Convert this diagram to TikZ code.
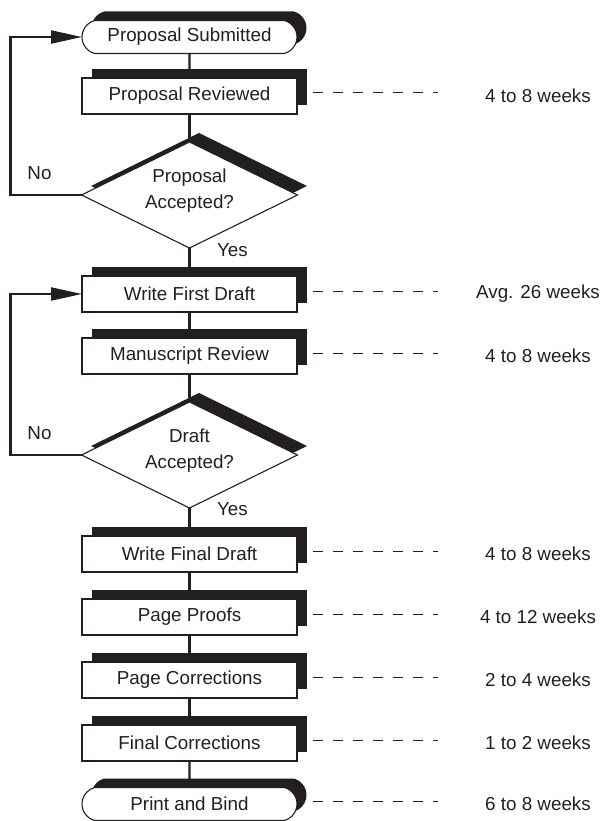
\documentclass[tikz,border=0pt]{standalone}
\usepackage{fontspec}
\setmainfont{Liberation Sans}
\usetikzlibrary{positioning,
shapes.geometric,
shapes.misc,
shadows,
arrows.meta}
\definecolor{inkblack}{RGB}{35,31,32}

\begin{document}
\begin{tikzpicture} [-,
    color=inkblack,
    line width=2.2pt,
    box node/.style={rectangle, draw, fill=white, line width=1.1pt,
        minimum width=215pt, minimum height=36pt, inner sep=0pt, outer sep=0pt,
        general shadow={fill=inkblack, shadow xshift=9.5pt, shadow yshift=9pt}},
    term node/.style={box node, rounded rectangle,
        rounded rectangle arc length=150, minimum height=33pt},
    test node/.style={box node, diamond, aspect=2.04, align=center,
        text depth=12pt, font=\fontsize{18.8pt}{26pt}\selectfont,
        minimum width=216pt, minimum height=106pt},
    lead line/.style={line width=1pt, dash pattern=on 10pt off 10pt},
    back arrow/.style={-{Triangle[length=31pt, width=13pt]}},
    every node/.style={font=\fontsize{18.8pt}{25pt}\selectfont}
  ]

  \useasboundingbox (0,0) rectangle (601pt,-821pt);

  \node [term node] (ps) at (189.5pt,-37pt) {Proposal Submitted};
  \node [box node, below = 24.5pt of ps] (pr) {Proposal Reviewed};
  \node [test node, below = 28pt of pr] (pa) {Proposal\\Accepted?};
  \node [box node, below = 28pt of pa] (wfd) {Write First Draft};
  \node [box node, below = 26pt of wfd] (mr) {Manuscript Review};
  \node [test node, below = 28pt of mr] (da) {Draft\\Accepted?};
  \node [box node, below = 28pt of da] (wfin) {Write Final Draft};
  \node [box node, below = 27pt of wfin] (pp) {Page Proofs};
  \node [box node, below = 27pt of pp] (pc) {Page Corrections};
  \node [box node, below = 27pt of pc] (fc) {Final Corrections};
  \node [term node, below = 26.5pt of fc] (pb) {Print and Bind};

  % main flow
  \draw (ps) -- (pr);
  \draw (pr) -- (pa);
  \draw (pa) -- (wfd);
  \draw (wfd) -- (mr);
  \draw (mr) -- (da);
  \draw (da) -- (wfin);
  \draw (wfin) -- (pp);
  \draw (pp) -- (pc);
  \draw (pc) -- (fc);
  \draw (fc) -- (pb);

  % rejections
  \draw [back arrow] (pa.west) -- ++(-71pt,0) |- (ps.west);
  \draw [back arrow] (da.west) -- ++(-71pt,0) |- (wfd.west);

  \node (no1) at ([xshift=-42pt, yshift=22pt]pa.west) {No};
  \node (yes1) at ([xshift=43pt, yshift=-2pt]pa.south) {Yes};
  \node (no2) at ([xshift=-42pt, yshift=22pt]da.west) {No};
  \node (yes2) at ([xshift=43pt, yshift=-1pt]da.south) {Yes};

  % durations
  \draw [lead line] ([xshift=16pt, yshift=3pt]pr.east) -- ([xshift=141pt, yshift=3pt]pr.east);
  \node (tpr) at ([xshift=241pt]pr.east) {4 to 8 weeks};

  \draw [lead line] ([xshift=16pt, yshift=3pt]wfd.east) -- ([xshift=141pt, yshift=3pt]wfd.east);
  \node (twfd) at ([xshift=241pt]wfd.east) {Avg. 26 weeks};

  \draw [lead line] ([xshift=16pt, yshift=3pt]mr.east) -- ([xshift=141pt, yshift=3pt]mr.east);
  \node (tmr) at ([xshift=241pt]mr.east) {4 to 8 weeks};

  \draw [lead line] ([xshift=16pt, yshift=3pt]wfin.east) -- ([xshift=141pt, yshift=3pt]wfin.east);
  \node (twfin) at ([xshift=241pt]wfin.east) {4 to 8 weeks};

  \draw [lead line] ([xshift=16pt, yshift=3pt]pp.east) -- ([xshift=141pt, yshift=3pt]pp.east);
  \node (tpp) at ([xshift=241pt]pp.east) {4 to 12 weeks};

  \draw [lead line] ([xshift=16pt, yshift=3pt]pc.east) -- ([xshift=141pt, yshift=3pt]pc.east);
  \node (tpc) at ([xshift=241pt]pc.east) {2 to 4 weeks};

  \draw [lead line] ([xshift=16pt, yshift=3pt]fc.east) -- ([xshift=141pt, yshift=3pt]fc.east);
  \node (tfc) at ([xshift=241pt]fc.east) {1 to 2 weeks};

  \draw [lead line] ([xshift=16pt, yshift=3pt]pb.east) -- ([xshift=141pt, yshift=3pt]pb.east);
  \node (tpb) at ([xshift=241pt]pb.east) {6 to 8 weeks};

\end{tikzpicture}
\end{document}
